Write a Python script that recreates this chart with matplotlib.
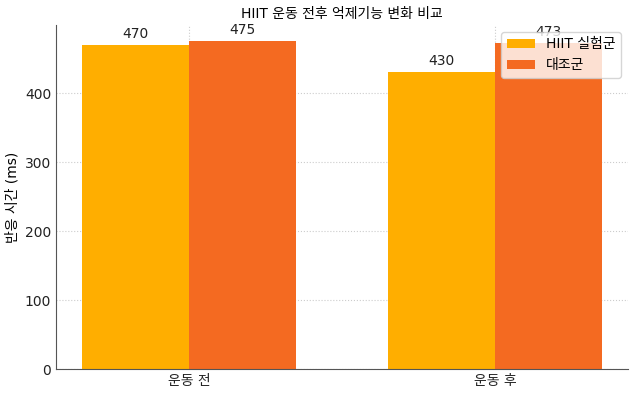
import numpy as np
import matplotlib
matplotlib.use('Agg')
from matplotlib import pyplot as plt

plt.rcParams['font.family'] = ['DejaVu Sans', 'Noto Sans CJK KR']

categories = ['운동 전', '운동 후']
hiit_values = [470, 430]
control_values = [475, 473]
series_names = ['HIIT 실험군', '대조군']
colors = ['#FFAE00', '#F46A21']

fig = plt.figure(figsize=(6.38, 3.96), dpi=100)
ax = fig.add_axes([0.088, 0.068, 0.896, 0.869])

x = np.arange(len(categories))
width = 0.35
bars1 = ax.bar(x - width / 2, hiit_values, width, label=series_names[0], color=colors[0], zorder=2)
bars2 = ax.bar(x + width / 2, control_values, width, label=series_names[1], color=colors[1], zorder=2)

for bars in (bars1, bars2):
    for b in bars:
        ax.annotate(f'{int(b.get_height())}', (b.get_x() + b.get_width() / 2, b.get_height()),
                    xytext=(0, 3), textcoords='offset points', ha='center', va='bottom',
                    fontsize=10, color='#222222')

ax.set_xticks(x)
ax.set_xticklabels(categories)
ax.set_ylabel('반응 시간 (ms)', fontsize=10)
ax.set_title('HIIT 운동 전후 억제기능 변화 비교', fontsize=10, pad=5)
ax.grid(True, linestyle=':', color='#cccccc', linewidth=0.8, zorder=0)
ax.tick_params(length=0, labelsize=10, colors='#222222')
for s in ('top', 'right'):
    ax.spines[s].set_visible(False)
for s in ('left', 'bottom'):
    ax.spines[s].set_color('#555555')
ax.legend(loc='upper right', fontsize=10, framealpha=0.8)

fig.savefig('out.png', dpi=100)
